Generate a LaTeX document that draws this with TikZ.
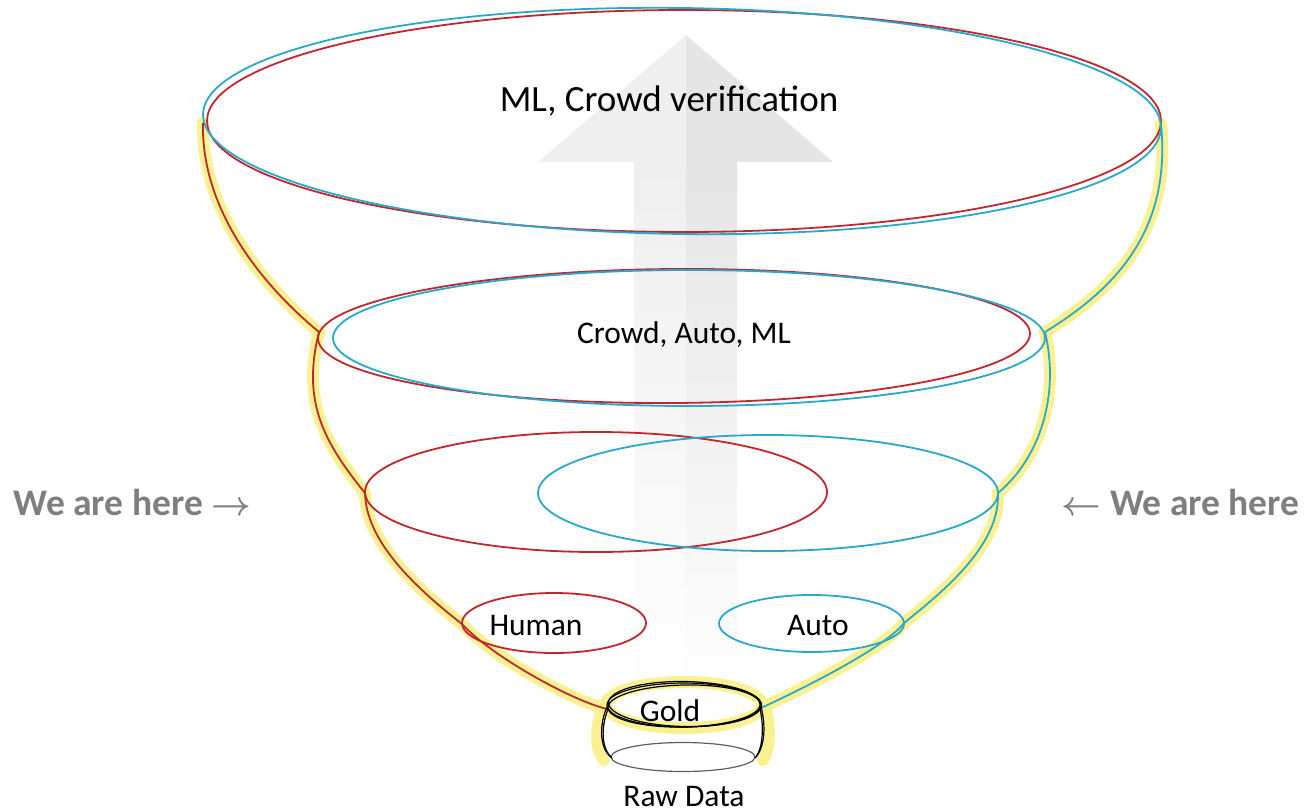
\documentclass[tikz,border=0pt]{standalone}
\usepackage{fontspec}
\setmainfont{Carlito}
\definecolor{funnelred}{RGB}{193,39,45}
\definecolor{funnelblue}{RGB}{41,168,204}
\definecolor{glow}{RGB}{250,240,135}
\definecolor{notegray}{RGB}{127,127,127}
\definecolor{arrowlight}{RGB}{239,239,239}
\definecolor{arrowdark}{RGB}{229,229,229}
\definecolor{rawgray}{RGB}{95,95,95}

\begin{document}
\begin{tikzpicture}[x=0.5pt,y=-0.5pt,
  redline/.style={draw=funnelred,line width=0.9pt},
  blueline/.style={draw=funnelblue,line width=0.9pt},
  glowline/.style={draw=glow,line width=6pt,line cap=round,opacity=0.9},
  ringline/.style={draw=black,line width=0.6pt},
  label/.style={font=\fontsize{15.75}{18}\selectfont,text=black,inner sep=0pt},
  bigtext/.style={font=\fontsize{18.5}{22}\selectfont,text=black,inner sep=0pt},
  note/.style={font=\fontsize{18.75}{22}\selectfont\bfseries\boldmath,text=notegray,inner sep=0pt}]

\useasboundingbox (0,0) rectangle (1309,812);

% upward arrow in the background
\fill[arrowlight] (686,35) -- (686,162) -- (538,162) -- cycle;
\fill[arrowdark] (686,35) -- (833,162) -- (686,162) -- cycle;
\shade[top color=arrowlight, bottom color=white] (634,162) rectangle (686,705);
\shade[top color=arrowdark, bottom color=white] (686,162) rectangle (737,705);

% end points of the funnel outline
\coordinate (L0) at (203,123);
\coordinate (L1) at (319,332);
\coordinate (L2) at (365,493);
\coordinate (L3) at (462,624);
\coordinate (L4) at (607,709);
\coordinate (R0) at (1161,124);
\coordinate (R1) at (1045,332);
\coordinate (R2) at (998,493);
\coordinate (R3) at (904,623);
\coordinate (R4) at (761,708);

% yellow glow along the funnel and round the gold cup
\draw[glowline] (L0) .. controls (201,210) and (262,285) .. (L1)
  .. controls (302,400) and (322,440) .. (L2)
  .. controls (366,540) and (412,585) .. (L3)
  .. controls (490,655) and (570,700) .. (L4);
\draw[glowline] (R0) .. controls (1172,235) and (1110,292) .. (R1)
  .. controls (1060,395) and (1040,458) .. (R2)
  .. controls (1000,545) and (945,590) .. (R3)
  .. controls (885,648) and (800,690) .. (R4);
\draw[glowline] (684,705) ellipse [x radius=78, y radius=23];
\draw[glowline] (603,708) .. controls (596,724) and (594,748) .. (604,760);
\draw[glowline] (765,708) .. controls (771,726) and (770,748) .. (763,760);

% top level
\draw[redline] (684,121) ellipse [x radius=477, y radius=111];
\draw[blueline, rotate around={-0.8:(682,121)}] (682,121) ellipse [x radius=479, y radius=113];

% second level
\draw[redline, rotate around={0.4:(674,336)}] (674,336) ellipse [x radius=356, y radius=67];
\draw[blueline] (689,338) ellipse [x radius=356, y radius=68];

% third level
\draw[redline] (596,492) ellipse [x radius=231, y radius=60];
\draw[blueline] (768,493) ellipse [x radius=230, y radius=58];

% human and auto
\draw[redline] (554,623) ellipse [x radius=92, y radius=30];
\draw[blueline] (811.5,623.5) ellipse [x radius=92.5, y radius=28.5];

% funnel outline
\draw[redline] (L0) .. controls (201,210) and (262,285) .. (L1)
  .. controls (302,400) and (322,440) .. (L2)
  .. controls (366,540) and (412,585) .. (L3)
  .. controls (490,655) and (570,700) .. (L4);
\draw[blueline] (R0) .. controls (1172,235) and (1110,292) .. (R1)
  .. controls (1060,395) and (1040,458) .. (R2)
  .. controls (1000,545) and (945,590) .. (R3)
  .. controls (885,648) and (800,690) .. (R4);

% raw data base and gold cup
\draw[draw=rawgray,line width=0.6pt] (683,757) ellipse [x radius=72, y radius=14.5];
\draw[ringline] (607,707) .. controls (600,722) and (598,748) .. (612,758);
\draw[ringline] (608,709) .. controls (602,724) and (600,746) .. (611,757);
\draw[ringline] (761,707) .. controls (766,725) and (765,748) .. (755,758);
\draw[ringline] (760,709) .. controls (764,726) and (763,747) .. (756,757);
\draw[ringline] (684,705) ellipse [x radius=77, y radius=22];
\draw[ringline, rotate around={1.2:(684,706)}] (684,706) ellipse [x radius=76, y radius=21];
\draw[ringline, rotate around={-1:(685,704)}] (685,704) ellipse [x radius=76.5, y radius=22.5];

% labels
\node[bigtext] (top) at (669,101) {ML, Crowd verification};
\node[label] (mid) at (684,335) {Crowd, Auto, ML};
\node[label] (human) at (536,626) {Human};
\node[label] (auto) at (818,626) {Auto};
\node[label] (gold) at (670,711) {Gold};
\node[label] (raw) at (684,796) {Raw Data};
\node[note, anchor=base west] (hereL) at (13,515) {We are here $\rightarrow$};
\node[note, anchor=base east] (hereR) at (1300,515) {$\leftarrow$ We are here};
\end{tikzpicture}
\end{document}
